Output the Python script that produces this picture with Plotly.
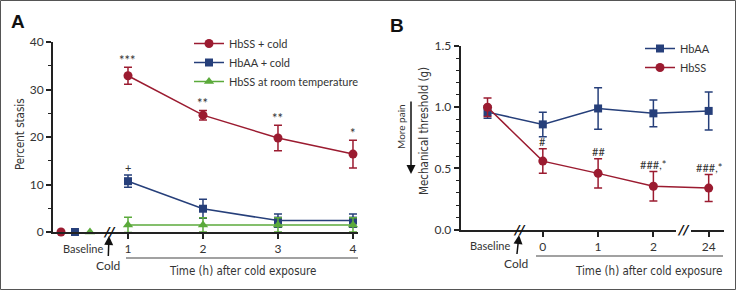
import plotly.graph_objects as go

W, H = 736, 290

# ---------------- data ----------------
# Panel A
times_A = [1, 2, 3, 4]
hbss_cold = [32.9, 24.6, 19.8, 16.4]
hbss_cold_err = [1.8, 1.0, 2.7, 2.9]
hbaa_cold = [10.7, 4.9, 2.4, 2.4]
hbaa_cold_err = [1.3, 2.0, 1.4, 1.4]
hbss_rt = [1.5, 1.5, 1.5, 1.5]
hbss_rt_err = [1.6, 1.5, 1.5, 1.5]
baseline_A = {"HbSS + cold": 0, "HbAA + cold": 0, "HbSS at room temperature": 0}
sig_hbss_A = ["***", "**", "**", "*"]
sig_hbaa_A = ["+", "", "", ""]
yticks_A = [0, 10, 20, 30, 40]

# Panel B
cats_B = ["Baseline", "0", "1", "2", "24"]
hbaa_B = [0.96, 0.86, 0.99, 0.95, 0.97]
hbaa_B_err = [0.05, 0.10, 0.17, 0.11, 0.155]
hbss_B = [1.00, 0.56, 0.46, 0.355, 0.34]
hbss_B_err = [0.075, 0.10, 0.12, 0.12, 0.11]
sig_B = ["", "#", "##", "###,*", "###,*"]
yticks_B = [0.0, 0.5, 1.0, 1.5]

# ---------------- style ----------------
RED = "#9B1B30"
BLUE = "#263F7A"
GREEN = "#5BAA3B"
TXT = "#333333"
AX = "#222222"
TICKFONT = "Lato, Open Sans, sans-serif"
COND = dict(family="DejaVu Sans Condensed, Noto Sans, sans-serif", size=11.5, color=TXT)

# baseline marker x-offsets in panel A (layout, not data)
BASE_X_A = {"HbSS + cold": 0.107, "HbAA + cold": 0.293, "HbSS at room temperature": 0.493}


def px(x):
    return x / W


def py(y):
    return 1 - y / H


fig = go.Figure()


def series(x, y, err, color, symbol, size, name, xa, ya, legend, showlegend=True, mode="lines+markers"):
    fig.add_trace(go.Scatter(
        x=x, y=y, mode=mode, name=name,
        line=dict(color=color, width=1.5),
        marker=dict(color=color, symbol=symbol, size=size),
        error_y=dict(type="data", array=err, color=color, thickness=1.5, width=4),
        xaxis=xa, yaxis=ya, legend=legend, showlegend=showlegend, cliponaxis=False,
    ))


# Panel A
series(times_A, hbss_cold, hbss_cold_err, RED, "circle", 9, "HbSS + cold", "x", "y", "legend")
series(times_A, hbaa_cold, hbaa_cold_err, BLUE, "square", 8, "HbAA + cold", "x", "y", "legend")
series(times_A, hbss_rt, hbss_rt_err, GREEN, "triangle-up", 9, "HbSS at room temperature", "x", "y", "legend")
for name, color, symbol, size in [("HbSS + cold", RED, "circle", 9),
                                  ("HbAA + cold", BLUE, "square", 8),
                                  ("HbSS at room temperature", GREEN, "triangle-up", 9)]:
    fig.add_trace(go.Scatter(
        x=[BASE_X_A[name]], y=[baseline_A[name]], mode="markers",
        marker=dict(color=color, symbol=symbol, size=size),
        xaxis="x", yaxis="y", showlegend=False, cliponaxis=False,
    ))

# Panel B
series(cats_B, hbaa_B, hbaa_B_err, BLUE, "square", 8, "HbAA", "x2", "y2", "legend2")
series(cats_B, hbss_B, hbss_B_err, RED, "circle", 9, "HbSS", "x2", "y2", "legend2")

ann = []


def label(x, y, text, font, **kw):
    d = dict(x=px(x), y=py(y), xref="paper", yref="paper", text=text, showarrow=False,
             xanchor="center", yanchor="middle", font=font)
    d.update(kw)
    ann.append(d)


# significance labels
for x, y, e, s in zip(times_A, hbss_cold, hbss_cold_err, sig_hbss_A):
    if s:
        ann.append(dict(x=x, y=y + e, xref="x", yref="y", text=s, showarrow=False,
                        xanchor="center", yanchor="bottom", yshift=-3,
                        font=dict(size=13, color=TXT, family=TICKFONT)))
for x, y, e, s in zip(times_A, hbaa_cold, hbaa_cold_err, sig_hbaa_A):
    if s:
        ann.append(dict(x=x, y=y + e, xref="x", yref="y", text=s, showarrow=False,
                        xanchor="center", yanchor="bottom", yshift=-1,
                        font=dict(size=11, color=TXT, family=TICKFONT)))
for i, (y, e, s) in enumerate(zip(hbss_B, hbss_B_err, sig_B)):
    if s:
        ann.append(dict(x=i, y=y + e, xref="x2", yref="y2", text=s, showarrow=False,
                        xanchor="center", yanchor="bottom", yshift=-1,
                        font=dict(size=11, color=TXT, family=TICKFONT)))

# panel letters
LETTER = dict(size=19, color="#111", family="Liberation Sans, Arial")
label(18, 21, "<b>A</b>", LETTER)
label(397, 25, "<b>B</b>", LETTER)

# y titles
label(20, 134, "Percent stasis", COND, textangle=-90)
label(424, 131, "Mechanical threshold (g)", COND, textangle=-90)
label(401, 127, "More pain", dict(size=10, color=TXT, family=TICKFONT), textangle=-90)
ann.append(dict(x=px(411), y=py(174), xref="paper", yref="paper", text="", showarrow=True,
                ax=0, ay=-74, arrowhead=2, arrowsize=1.2, arrowwidth=1.5, arrowcolor="#111"))

# x titles
label(242, 271, "Time (h) after cold exposure", COND)
label(648, 271, "Time (h) after cold exposure", COND)

# baseline labels
label(83, 248, "Baseline", dict(size=11, color=TXT, family=TICKFONT))
label(490, 245, "Baseline", dict(size=11, color=TXT, family=TICKFONT))

# Cold arrows
ann.append(dict(x=px(109), y=py(236), xref="paper", yref="paper", text="Cold", showarrow=True,
                ax=-1, ay=29, arrowhead=2, arrowsize=1.2, arrowwidth=1.5, arrowcolor="#111",
                font=dict(size=12, color=TXT, family=TICKFONT)))
ann.append(dict(x=px(519), y=py(235), xref="paper", yref="paper", text="Cold", showarrow=True,
                ax=-3, ay=28, arrowhead=2, arrowsize=1.2, arrowwidth=1.5, arrowcolor="#111",
                font=dict(size=12, color=TXT, family=TICKFONT)))

# axis break marks
for xx, yy in [(109, 231), (519, 229), (683, 229)]:
    label(xx, yy, "<b><i>//</i></b>", dict(size=13, color="#111", family="DejaVu Sans"))

shapes = [
    # underline bars
    dict(type="line", xref="paper", yref="paper", x0=px(126), x1=px(358), y0=py(258), y1=py(258),
         line=dict(color="#444", width=1.2)),
    dict(type="line", xref="paper", yref="paper", x0=px(536), x1=px(723), y0=py(256), y1=py(256),
         line=dict(color="#444", width=1.2)),
    # gap in panel B axis
    dict(type="rect", xref="paper", yref="paper", x0=px(676), x1=px(691), y0=py(233), y1=py(227),
         fillcolor="white", line=dict(width=0), layer="above"),
    # frame
    dict(type="rect", xref="paper", yref="paper", x0=px(0.5), x1=px(W - 0.5), y0=py(H - 0.5), y1=py(0.5),
         line=dict(color="#555", width=1)),
]

common_ax = dict(showgrid=False, zeroline=False, showline=True, linecolor=AX, linewidth=2,
                 ticks="outside", tickcolor=AX, tickwidth=1.5, ticklen=5,
                 tickfont=dict(size=12, color=TXT, family=TICKFONT))

fig.update_layout(
    width=W, height=H, margin=dict(l=0, r=0, t=0, b=0, autoexpand=False),
    paper_bgcolor="white", plot_bgcolor="white",
    xaxis=dict(domain=[px(53), px(358)], range=[0, 4.067], tickvals=times_A, anchor="y", **common_ax),
    yaxis=dict(domain=[py(232), py(42)], range=[0, 40], tickvals=yticks_A, anchor="x",
               minor=dict(dtick=5, ticks="outside", ticklen=3, tickcolor=AX, tickwidth=1.2), **common_ax),
    xaxis2=dict(domain=[px(460.7), px(724)], type="category", categoryorder="array", categoryarray=cats_B,
                range=[-0.485, 4.277], tickvals=cats_B[1:], anchor="y2", **common_ax),
    yaxis2=dict(domain=[py(229.7), py(46)], range=[0, 1.5], tickvals=yticks_B, tickformat=".1f", anchor="x2",
                minor=dict(dtick=0.1, ticks="outside", ticklen=3, tickcolor=AX, tickwidth=1.2), **common_ax),
    legend=dict(x=px(189), y=py(29), xanchor="left", yanchor="top", bgcolor="rgba(0,0,0,0)",
                font=dict(size=11, color=TXT, family=TICKFONT), tracegroupgap=0),
    legend2=dict(x=px(640), y=py(34), xanchor="left", yanchor="top", bgcolor="rgba(0,0,0,0)",
                 font=dict(size=11, color=TXT, family=TICKFONT), tracegroupgap=0),
    annotations=ann, shapes=shapes,
)

fig.write_html("out.html", config={"responsive": False, "displayModeBar": False},
               post_script="document.body.style.margin='0';document.body.style.overflow='hidden';")
